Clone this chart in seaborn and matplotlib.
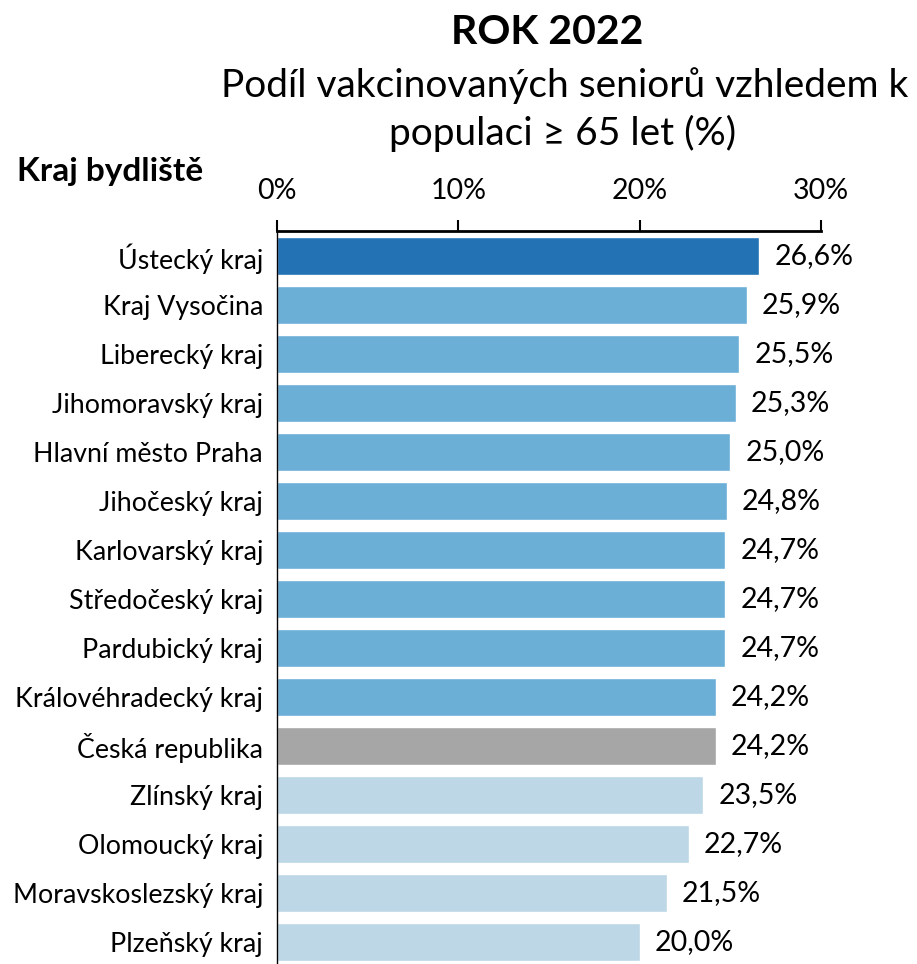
import matplotlib
matplotlib.use("Agg")
import matplotlib.pyplot as plt
import seaborn as sns
import pandas as pd

regions = [
    "Ústecký kraj", "Kraj Vysočina", "Liberecký kraj", "Jihomoravský kraj",
    "Hlavní město Praha", "Jihočeský kraj", "Karlovarský kraj", "Středočeský kraj",
    "Pardubický kraj", "Královéhradecký kraj", "Česká republika", "Zlínský kraj",
    "Olomoucký kraj", "Moravskoslezský kraj", "Plzeňský kraj",
]
share = [26.6, 25.9, 25.5, 25.3, 25.0, 24.8, 24.7, 24.7, 24.7, 24.2, 24.2, 23.5, 22.7, 21.5, 20.0]
colors = (["#2272B4"] + ["#6BAED6"] * 9 + ["#A6A6A6"] + ["#BDD7E7"] * 4)
x_ticks = [0, 10, 20, 30]
x_tick_labels = ["0%", "10%", "20%", "30%"]

sns.set_theme(style="white")
plt.rcParams["font.family"] = ["Lato", "DejaVu Sans"]

df = pd.DataFrame({"kraj": regions, "podil": share})

fig = plt.figure(figsize=(9.17, 9.64), dpi=100)
ax = fig.add_axes([0.302, -0.0025, 0.5933, 0.7625])

sns.barplot(data=df, x="podil", y="kraj", hue="kraj", palette=colors,
            legend=False, width=0.78, orient="h", ax=ax, saturation=1)

ax.set_xlim(0, 30)
ax.set_ylim(14.5, -0.5)
ax.xaxis.tick_top()
ax.set_xticks(x_ticks)
ax.set_xticklabels(x_tick_labels, fontsize=20.5)
ax.tick_params(axis="x", direction="out", length=8, width=1.5, color="black",
               pad=12, top=True, bottom=False)
ax.tick_params(axis="y", length=0, pad=10, labelsize=19.3)
for lbl in ax.get_yticklabels():
    lbl.set_color("black")
for lbl in ax.get_xticklabels():
    lbl.set_color("black")
ax.set_xlabel("")
ax.set_ylabel("")

for s in ["right", "bottom"]:
    ax.spines[s].set_visible(False)
ax.spines["top"].set_color("black")
ax.spines["top"].set_linewidth(2)
ax.spines["left"].set_color("black")
ax.spines["left"].set_linewidth(1)

for container in ax.containers:
    vals = container.datavalues
    ax.bar_label(container, labels=[f"{v:.1f}".replace(".", ",") + "%" for v in vals],
                 padding=11, fontsize=20.5, color="black")

fig.text(0.597, 0.966, "ROK 2022", ha="center", va="center",
         fontsize=29.5, fontweight="bold", color="black")
fig.text(0.616, 0.911, "Podíl vakcinovaných seniorů vzhledem k", ha="center",
         va="center", fontsize=28, color="black")
fig.text(0.614, 0.862, "populaci ≥ 65 let (%)", ha="center",
         va="center", fontsize=28, color="black")
fig.text(0.018, 0.822, "Kraj bydliště", ha="left", va="center",
         fontsize=24, fontweight="bold", color="black")

fig.savefig("out.png", dpi=100)
